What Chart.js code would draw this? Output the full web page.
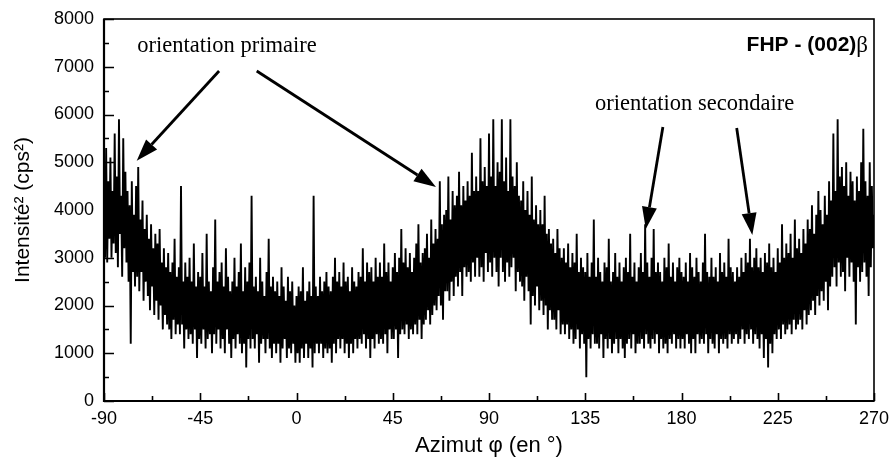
<!DOCTYPE html>
<html>
<head>
<meta charset="utf-8">
<script src="https://cdn.jsdelivr.net/npm/chart.js@4/dist/chart.umd.min.js"></script>
<style>
  html, body { margin: 0; padding: 0; background: #fff; }
  #wrap { width: 890px; height: 466px; position: relative; }
</style>
</head>
<body>
<div id="wrap"><canvas id="c" width="890" height="466"></canvas></div>
<script>
// Azimuth sampling grid (degrees)
const angleStart = -90;
const angleStep = 0.5;

// Intensity (cps²), one value per 0.5°
const intensityA = [ // -90 .. -0.5
  4200,3000,5300,2900,4600,3400,5100,3000,4400,3300,
  5600,3100,4700,2800,5900,3500,4300,2600,5500,3200,
  4800,2900,4400,2500,4100,1200,4600,2700,3900,2400,
  4500,2600,4900,2300,3800,2700,4200,2100,3600,2500,
  3900,2200,3400,1900,3700,2400,3200,1800,3500,2100,
  3300,1700,3600,2000,2900,1500,3200,1800,2800,1600,
  3100,1500,2700,1300,2900,1700,3400,1400,2600,1600,
  2800,1400,4500,1600,2500,1100,2900,1500,2600,1300,
  3000,1400,2500,1200,3300,1500,2400,900,2700,1300,
  2600,1200,3100,1500,2400,1100,3500,1300,2500,1400,
  2300,1000,2800,1400,3800,1200,2500,1500,2700,1100,
  2900,1300,2400,1000,3200,1500,2600,1200,2300,900,
  2500,1300,3000,1100,2400,1400,2700,1200,3300,1000,
  2300,1200,2800,700,2500,1300,2900,1100,4300,1300,
  2400,1100,2600,1400,2300,800,3000,1200,2500,1300,
  2200,1000,2700,1300,3400,1100,2400,900,2600,1200,
  2300,1000,2500,1200,2200,800,2800,1100,2400,1300,
  2100,900,2600,1100,2300,1000,2500,1200,2000,800
];
const intensityB = [ // 0 .. 89.5
  2200,1000,2400,800,2300,1100,2800,900,2100,1200,
  2300,900,2500,1100,2200,700,4300,1000,2400,1200,
  2200,1000,2600,1200,2300,900,2500,1100,2700,1000,
  2400,1100,2300,800,2600,1200,3000,1000,2500,1300,
  2700,1100,2400,1300,2900,1000,2500,1200,2600,900,
  2300,1200,2800,1000,2500,1300,2400,1100,2700,1300,
  2600,1200,3200,1400,2500,1100,2900,1300,2700,900,
  2800,1300,2500,1100,3000,1400,2600,1200,2900,1300,
  2600,1200,3300,1400,2700,1000,2900,1500,2500,1300,
  2800,1300,3100,1500,2700,900,3000,1400,3600,1500,
  2900,1400,3200,1600,2800,1300,3100,1500,2700,1400,
  3000,1600,3300,1400,3700,1700,2900,1300,3100,1600,
  3200,1700,3500,1900,3000,1600,3800,1800,3300,2000,
  3600,1900,3400,2200,4600,2000,3700,1700,3900,2300,
  4000,2300,4700,2100,3800,2500,4400,2200,4100,2600,
  4300,2400,4800,2700,4100,2200,4500,2800,4200,2600,
  4600,2700,4300,2500,5200,2900,4400,2600,4700,3000,
  4400,2600,5500,2800,4600,2500,4900,3100,4500,2700
];
const intensityC = [ // 90 .. 179.5
  5600,2900,4700,2600,5900,3000,4500,2700,5000,2400,
  4800,3000,5900,2700,4600,2500,5100,2900,4400,2600,
  5900,2800,4700,3000,4500,2300,5000,2700,4300,2500,
  4200,2400,4600,2100,4000,2600,4400,2300,3900,1600,
  4700,2200,3800,2000,4100,2400,3700,1900,4000,2100,
  3700,1800,4300,2000,3500,1500,3600,1900,3300,1700,
  3400,1700,3100,1500,3600,1900,3200,1400,3000,1600,
  3200,1400,2900,1600,3300,1300,2800,1500,3100,1200,
  2900,1300,3500,1500,2700,1100,3000,1400,2800,1200,
  2700,500,3100,1300,2600,1100,2900,1400,3800,1200,
  2600,1200,3000,1100,2700,1400,2500,900,2900,1300,
  2800,1100,3400,1300,2500,1000,2700,1200,3100,1300,
  2600,1000,2900,1300,2500,1100,2800,900,3000,1200,
  2700,1300,3500,1100,2600,1400,2900,1000,2500,1200,
  2800,1200,3100,1300,2700,1100,3700,1400,2900,1200,
  2600,1100,3000,1300,3600,1200,2700,1400,2900,1000,
  2700,1300,2500,1100,3000,1200,2800,1000,3300,1300,
  2600,1200,2900,1400,2500,1100,2800,1300,3000,1100
];
const intensityD = [ // 180 .. 270
  2700,1300,2600,1100,2900,1400,2500,1200,3100,1000,
  2800,1300,2600,1000,3000,1400,2700,1200,2500,1300,
  2900,1200,3500,1400,2700,1000,2600,1300,3000,1200,
  2600,1100,2800,1400,2500,1000,3100,1300,2700,1200,
  2900,1300,2600,1100,3400,1400,2800,1200,2700,1300,
  2500,1400,2800,1200,2600,1300,3000,1500,2700,1200,
  3100,1400,2900,1300,3400,1500,2800,1200,3000,1400,
  3200,1300,2800,1100,3000,1400,2700,900,3100,1300,
  2900,700,3300,1200,2800,1000,3000,1400,2700,1300,
  3200,1500,2900,1300,3700,1600,3000,1400,3300,1500,
  3100,1600,3500,1400,3000,1700,3800,1500,3200,1600,
  3400,1700,3100,1500,3600,1900,3300,1600,3800,1800,
  3600,1900,4100,2100,3500,1800,3900,2200,4400,2000,
  4000,2300,3700,2100,4300,2500,3900,1900,4600,2400,
  4200,2600,5600,2800,4400,2400,5900,2900,4700,2600,
  4900,2700,4500,2300,5000,3000,4300,2600,4800,2900,
  4600,2500,4200,1600,4700,2800,4400,2500,5000,2700,
  5700,2900,4600,2600,4300,2200,5000,2800,4500,3200,
  3900
];

const xTicks = [-90, -45, 0, 45, 90, 135, 180, 225, 270];
const yTicks = [0, 1000, 2000, 3000, 4000, 5000, 6000, 7000, 8000];

const intensity = intensityA.concat(intensityB, intensityC, intensityD);
const points = intensity.map((v, i) => ({ x: angleStart + i * angleStep, y: v }));

// Annotations, in data coordinates (azimuth, intensity)
const labels = [
  { text: 'orientation primaire', x: -32.5, y: 7435 },
  { text: 'orientation secondaire', x: 186.1, y: 6220 }
];
const arrows = [
  { from: [-36.2, 6911], to: [-74.7, 5032] },
  { from: [-18.6, 6911], to: [65.2, 4482] },
  { from: [171.3, 5738], to: [163.3, 3602] },
  { from: [205.8, 5717], to: [213.1, 3476] }
];
const sampleLabel = { main: 'FHP - (002)', greek: 'β', x: 267.2, y: 7455 };

const SANS = 'Arial, "Liberation Sans", sans-serif';
const SERIF = '"Times New Roman", "Liberation Serif", serif';

const decor = {
  id: 'decor',
  afterDraw(chart) {
    const { ctx, chartArea: a, scales: { x, y } } = chart;
    ctx.save();
    ctx.strokeStyle = '#000';
    ctx.fillStyle = '#000';
    // frame
    ctx.lineWidth = 1.6;
    ctx.strokeRect(a.left, a.top, a.right - a.left, a.bottom - a.top);
    ctx.lineWidth = 2.2;
    ctx.beginPath();
    ctx.moveTo(a.left, a.top); ctx.lineTo(a.left, a.bottom); ctx.lineTo(a.right, a.bottom);
    ctx.stroke();
    // inward ticks
    ctx.lineWidth = 1.6;
    ctx.beginPath();
    for (let v = 0; v <= 8000; v += 500) {
      const py = Math.round(y.getPixelForValue(v)) + 0.5;
      const len = v % 1000 === 0 ? 10 : 5;
      ctx.moveTo(a.left, py); ctx.lineTo(a.left + len, py);
    }
    for (let d = -90; d <= 270; d += 22.5) {
      const px = Math.round(x.getPixelForValue(d)) + 0.5;
      const len = d % 45 === 0 ? 8 : 5;
      ctx.moveTo(px, a.bottom); ctx.lineTo(px, a.bottom - len);
    }
    ctx.stroke();
    // arrows
    arrows.forEach(ar => {
      const x1 = x.getPixelForValue(ar.from[0]), y1 = y.getPixelForValue(ar.from[1]);
      const x2 = x.getPixelForValue(ar.to[0]), y2 = y.getPixelForValue(ar.to[1]);
      const ang = Math.atan2(y2 - y1, x2 - x1);
      const hl = 22, hw = 7.5;
      const bx = x2 - hl * Math.cos(ang), by = y2 - hl * Math.sin(ang);
      ctx.lineWidth = 2.8;
      ctx.beginPath(); ctx.moveTo(x1, y1); ctx.lineTo(bx, by); ctx.stroke();
      ctx.beginPath();
      ctx.moveTo(x2, y2);
      ctx.lineTo(bx + hw * Math.sin(ang), by - hw * Math.cos(ang));
      ctx.lineTo(bx - hw * Math.sin(ang), by + hw * Math.cos(ang));
      ctx.closePath(); ctx.fill();
    });
    // labels
    ctx.font = '22.5px ' + SERIF;
    ctx.textAlign = 'center';
    ctx.textBaseline = 'middle';
    labels.forEach(l => ctx.fillText(l.text, x.getPixelForValue(l.x), y.getPixelForValue(l.y)));
    // sample label (right aligned)
    const rx = x.getPixelForValue(sampleLabel.x), ry = y.getPixelForValue(sampleLabel.y);
    ctx.textAlign = 'right';
    ctx.font = '23px ' + SERIF;
    const gw = ctx.measureText(sampleLabel.greek).width;
    ctx.fillText(sampleLabel.greek, rx, ry + 1);
    ctx.font = 'bold 21px ' + SANS;
    ctx.fillText(sampleLabel.main, rx - gw, ry);
    ctx.restore();
  }
};

new Chart(document.getElementById('c'), {
  type: 'line',
  data: {
    datasets: [{
      data: points,
      borderColor: '#000',
      borderWidth: 1.9,
      pointRadius: 0,
      tension: 0,
      fill: false
    }]
  },
  options: {
    responsive: false,
    animation: false,
    events: [],
    layout: { padding: { top: 19, right: 16, bottom: 0, left: 0 } },
    plugins: { legend: { display: false }, tooltip: { enabled: false } },
    scales: {
      x: {
        type: 'linear',
        min: -90, max: 270,
        afterFit(s) { s.height = 65; s.paddingLeft = 0; s.paddingRight = 0; },
        afterBuildTicks(s) { s.ticks = xTicks.map(v => ({ value: v })); },
        grid: { display: false, drawTicks: false },
        border: { display: false },
        ticks: { color: '#000', font: { family: SANS, size: 18 }, padding: 7, maxRotation: 0,
                 callback: v => String(v) },
        title: { display: true, text: 'Azimut φ (en °)', color: '#000',
                 font: { family: SANS, size: 22 }, padding: { top: 0, bottom: 7 } }
      },
      y: {
        type: 'linear',
        min: 0, max: 8000,
        afterFit(s) { s.width = 104; s.paddingTop = 0; s.paddingBottom = 0; },
        afterBuildTicks(s) { s.ticks = yTicks.map(v => ({ value: v })); },
        grid: { display: false, drawTicks: false },
        border: { display: false },
        ticks: { color: '#000', font: { family: SANS, size: 18 }, padding: 10,
                 callback: v => String(v) },
        title: { display: true, text: 'Intensité² (cps²)', color: '#000',
                 font: { family: SANS, size: 21 }, padding: { top: 11, bottom: 0 } }
      }
    }
  },
  plugins: [decor]
});
</script>
</body>
</html>
